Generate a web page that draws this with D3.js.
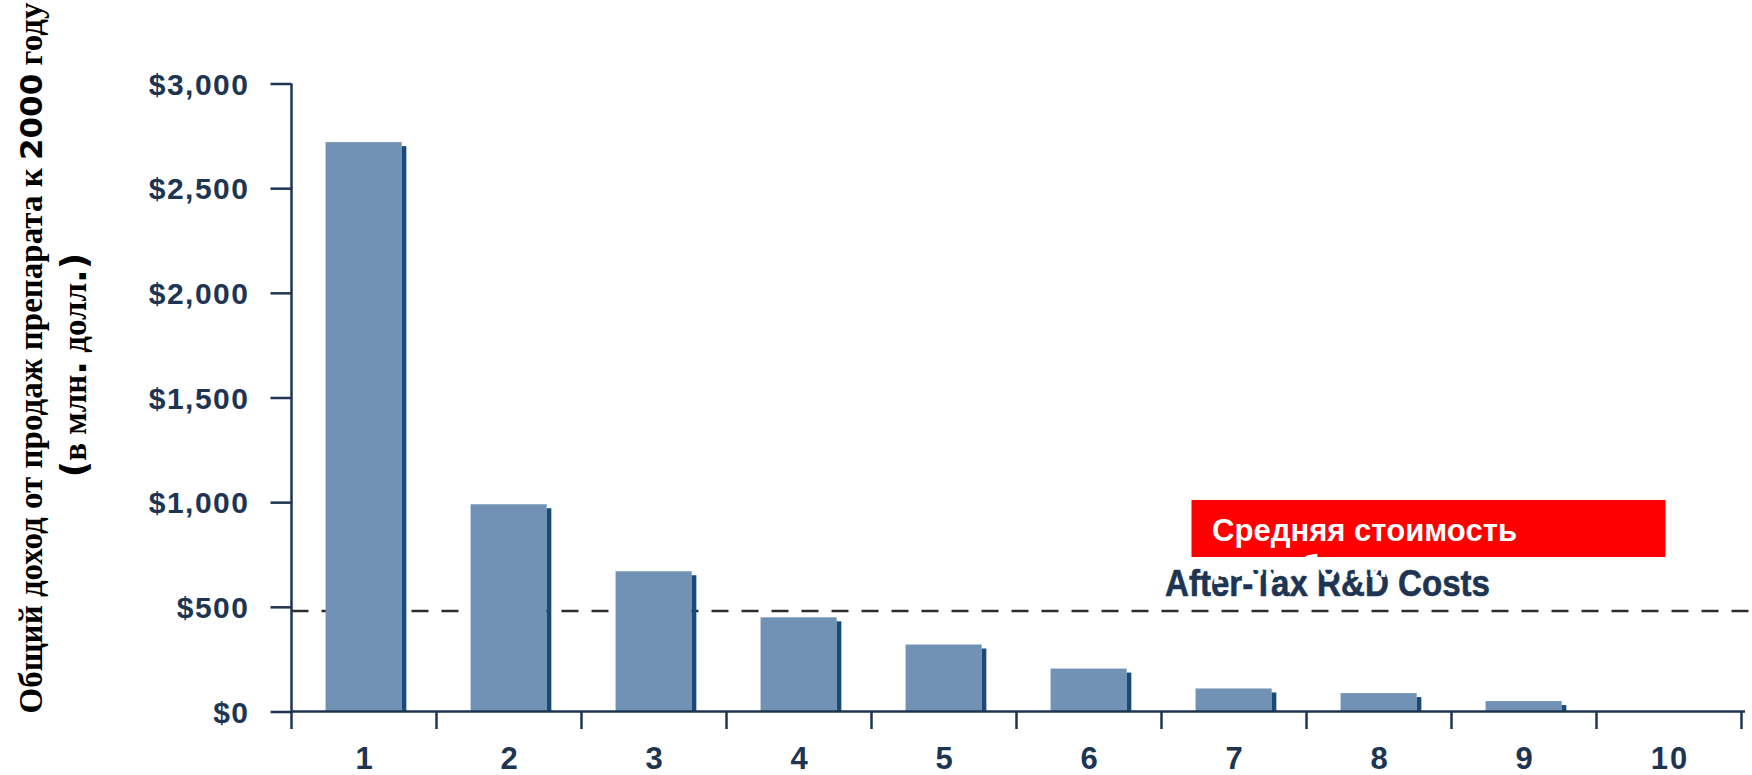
<!DOCTYPE html>
<html>
<head>
<meta charset="utf-8">
<script src="https://cdn.jsdelivr.net/npm/d3@7"></script>
<style>
  html, body { margin: 0; padding: 0; background: #ffffff; }
  svg { display: block; }
</style>
</head>
<body>
<svg id="chart" width="1752" height="775"></svg>
<script>
// Revenue by 2000 for each drug decile (millions of dollars)
const categories = ["1", "2", "3", "4", "5", "6", "7", "8", "9", "10"];
const revenue = [2720, 990, 670, 450, 320, 205, 110, 88, 50, 0];
const yTickValues = [0, 500, 1000, 1500, 2000, 2500, 3000];
const avgCost = 480;
const costLabel = "After-Tax R&D Costs";
const calloutLines = ["Средняя стоимость", "разработки"];
const titleLine1 = ["Общий доход от продаж препарата к ", "2000", " году"];
const titleLine2 = ["(", "в млн", ".", " долл", ".", ")"];

const svg = d3.select("#chart");
const navy = "#1d3552";
const barLight = "#7292b5";
const barDark = "#194a7a";
const labelFont = "'Liberation Sans', Arial, sans-serif";

const x = d3.scaleBand().domain(categories).range([291.5, 1741.5]).padding(0);
const y = d3.scaleLinear().domain([0, 3000]).range([711.5, 83.5]);

// Average cost line (behind the bars)
svg.append("line")
  .attr("x1", x.range()[0]).attr("x2", 1750)
  .attr("y1", y(avgCost)).attr("y2", y(avgCost))
  .attr("stroke", "#2e2e2e").attr("stroke-width", 2.5)
  .attr("stroke-dasharray", "17,13");

// Bars: light face plus a thin dark edge on the right
const bw = x.bandwidth();
const bars = svg.append("g").selectAll("g").data(revenue).join("g");
bars.append("rect")
  .attr("x", (d, i) => x(categories[i]) + bw * 0.235)
  .attr("width", bw * 0.525)
  .attr("y", d => y(d))
  .attr("height", d => y(0) - y(d))
  .attr("fill", barLight);
bars.append("rect")
  .attr("x", (d, i) => x(categories[i]) + bw * 0.76)
  .attr("width", bw * 0.032)
  .attr("y", d => Math.min(y(d) + 4, y(0)))
  .attr("height", d => Math.max(0, y(0) - y(d) - 4))
  .attr("fill", barDark);

// Y axis
const yAxis = d3.axisLeft(y)
  .tickValues(yTickValues)
  .tickSize(21)
  .tickSizeOuter(0)
  .tickPadding(21)
  .tickFormat(d => "$" + d3.format(",")(d));
const gy = svg.append("g").attr("transform", `translate(${x.range()[0]},0)`).call(yAxis);
gy.select(".domain").remove();
gy.selectAll(".tick line").attr("stroke", navy).attr("stroke-width", 2.5);
gy.selectAll(".tick text")
  .attr("fill", navy)
  .attr("font-family", labelFont)
  .attr("font-weight", "bold")
  .attr("font-size", 30)
  .attr("letter-spacing", 1.5)
  .attr("dy", "0.36em");
svg.append("line")
  .attr("x1", x.range()[0]).attr("x2", x.range()[0])
  .attr("y1", y(3000)).attr("y2", y(0) + 17.5)
  .attr("stroke", navy).attr("stroke-width", 2.5);

// X axis
const xAxis = d3.axisBottom(x).tickSize(0).tickSizeOuter(0).tickPadding(35);
const gx = svg.append("g").attr("transform", `translate(0,${y(0)})`).call(xAxis);
gx.select(".domain").remove();
gx.selectAll(".tick text")
  .attr("fill", navy)
  .attr("font-family", labelFont)
  .attr("font-weight", "bold")
  .attr("font-size", 31)
  .attr("letter-spacing", 2)
  .attr("dx", 1);
svg.append("line")
  .attr("x1", x.range()[0]).attr("x2", 1745)
  .attr("y1", y(0)).attr("y2", y(0))
  .attr("stroke", navy).attr("stroke-width", 2.5);
svg.append("g").selectAll("line").data(categories).join("line")
  .attr("x1", d => x(d) + x.step()).attr("x2", d => x(d) + x.step())
  .attr("y1", y(0)).attr("y2", y(0) + 17.5)
  .attr("stroke", navy).attr("stroke-width", 2.5);

// Cost line label
svg.append("text")
  .attr("x", 1165).attr("y", 596)
  .attr("fill", navy)
  .attr("font-family", labelFont)
  .attr("font-weight", "bold")
  .attr("font-size", 37)
  .attr("stroke", navy).attr("stroke-width", 0.6)
  .attr("textLength", 325)
  .attr("lengthAdjust", "spacingAndGlyphs")
  .text(costLabel);

// Red callout box
svg.append("rect")
  .attr("x", 1191.5).attr("y", 500).attr("width", 474).attr("height", 57)
  .attr("fill", "#ff0000");
svg.append("g").selectAll("text").data(calloutLines).join("text")
  .attr("x", 1212).attr("y", (d, i) => 541 + i * 36)
  .attr("fill", "#ffffff")
  .attr("font-family", labelFont)
  .attr("font-weight", "bold")
  .attr("font-size", 31)
  .attr("textLength", (d, i) => i === 0 ? 305 : null)
  .attr("lengthAdjust", "spacingAndGlyphs")
  .text(d => d);

// Y axis title (two rotated lines)
const serif = "'Liberation Serif', 'Times New Roman', serif";
const heavy = "'DejaVu Sans', sans-serif";
const t1 = svg.append("text")
  .attr("transform", "translate(42,358) rotate(-90)")
  .attr("text-anchor", "middle")
  .attr("font-weight", "bold")
  .attr("fill", "#000");
titleLine1.forEach((s, i) => {
  t1.append("tspan")
    .attr("font-family", i === 1 ? heavy : serif)
    .attr("font-size", i === 1 ? 31 : 33)
    .attr("font-weight", i === 1 ? 900 : "bold")
    .text(s);
});
const t2 = svg.append("text")
  .attr("transform", "translate(86,365) rotate(-90)")
  .attr("text-anchor", "middle")
  .attr("font-weight", "bold")
  .attr("fill", "#000");
titleLine2.forEach((s, i) => {
  const sans = (s === "(" || s === ")" || s === ".");
  t2.append("tspan")
    .attr("font-family", sans ? heavy : serif)
    .attr("font-size", sans ? 36 : 33)
    .attr("font-weight", sans ? 900 : "bold")
    .text(s);
});
</script>
</body>
</html>
